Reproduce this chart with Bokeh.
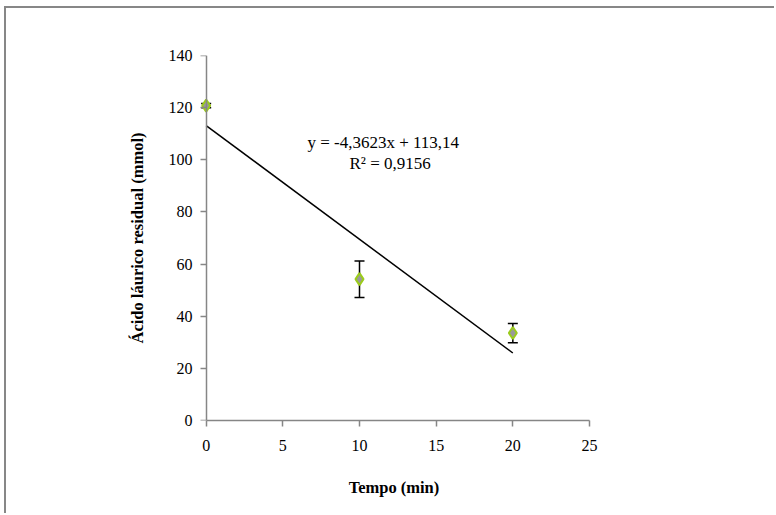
from bokeh.plotting import figure
from bokeh.models import (ColumnDataSource, Whisker, TeeHead, Label, Range1d,
                          FixedTicker, LinearAxis)
from bokeh.embed import file_html
from bokeh.resources import INLINE

# Residual lauric acid over reaction time
tempo = [0, 10, 20]
acido = [120.79, 54.22, 33.54]
erro = [0.8, 7.0, 3.7]

# Linear trend line parameters
slope = -4.3623
intercept = 113.14
r2 = 0.9156

x_ticks = [0, 5, 10, 15, 20, 25]
y_ticks = [0, 20, 40, 60, 80, 100, 120, 140]

SERIF = "Liberation Serif"
AXIS_GRAY = "#868686"

# a little room left of zero so the first marker is not cut off
p = figure(width=770, height=507, output_backend="svg", toolbar_location=None,
           x_range=Range1d(-0.5, 25), y_range=Range1d(0, 140),
           min_border_left=192, min_border_right=187,
           min_border_top=47, min_border_bottom=95)
p.styles = {"border-left": "2px solid #878787", "border-top": "2px solid #878787",
            "margin-left": "4px", "margin-top": "6px"}
p.outline_line_color = None
p.xgrid.visible = False
p.ygrid.visible = False

def style_axis(ax):
    ax.axis_line_color = AXIS_GRAY
    ax.axis_line_width = 1.5
    ax.major_tick_line_color = AXIS_GRAY
    ax.major_tick_line_width = 1.5
    ax.major_tick_out = 6
    ax.major_tick_in = 0
    ax.minor_tick_line_color = None
    ax.major_label_text_font = SERIF
    ax.major_label_text_font_size = "16px"
    ax.major_label_text_color = "black"
    ax.axis_label_text_font = SERIF
    ax.axis_label_text_font_size = "16.5px"
    ax.axis_label_text_font_style = "bold"
    ax.axis_label_text_color = "black"

style_axis(p.xaxis[0])
p.xaxis.bounds = (0, 25)
p.xaxis.ticker = FixedTicker(ticks=x_ticks)
p.xaxis.axis_label = "Tempo (min)"
p.xaxis.major_label_standoff = 13
p.xaxis.axis_label_standoff = 24

# left axis carries the tick labels and title
ylab = p.yaxis[0]
style_axis(ylab)
ylab.ticker = FixedTicker(ticks=y_ticks)
ylab.axis_line_color = None
ylab.major_tick_line_color = None
ylab.major_tick_out = 0
ylab.major_label_standoff = 6
ylab.axis_label = "Ácido láurico residual (mmol)"
ylab.axis_label_standoff = 19

# axis line and ticks sitting exactly at x = 0 (labels come from the axis above)
yline = LinearAxis(fixed_location=0, ticker=FixedTicker(ticks=y_ticks))
style_axis(yline)
yline.major_label_overrides = {t: "" for t in y_ticks}
yline.major_label_standoff = 0
p.add_layout(yline, "left")

# trend line over the measured range
tx = [tempo[0], tempo[-1]]
ty = [slope * t + intercept for t in tx]
p.line(tx, ty, line_color="black", line_width=1.5)

src = ColumnDataSource(dict(
    x=tempo, y=acido,
    lower=[a - e for a, e in zip(acido, erro)],
    upper=[a + e for a, e in zip(acido, erro)],
))
wh = Whisker(source=src, base="x", lower="lower", upper="upper",
             line_color="black", line_width=1.5,
             upper_head=TeeHead(size=10, line_color="black", line_width=1.5),
             lower_head=TeeHead(size=10, line_color="black", line_width=1.5))
p.add_layout(wh)

p.scatter("x", "y", source=src, marker="diamond", size=12,
          fill_color="#9a9a9a", line_color="#9BCB1C", line_width=2)

eq = "y = -4,3623x + 113,14"
rq = "R² = 0,9156"
p.add_layout(Label(x=11.55, y=106.6, text=eq, text_font=SERIF, text_font_size="17px",
                   text_align="center", text_baseline="middle", text_color="black"))
p.add_layout(Label(x=12.0, y=98.6, text=rq, text_font=SERIF, text_font_size="17px",
                   text_align="center", text_baseline="middle", text_color="black"))

open("out.html", "w").write(file_html(p, INLINE))
